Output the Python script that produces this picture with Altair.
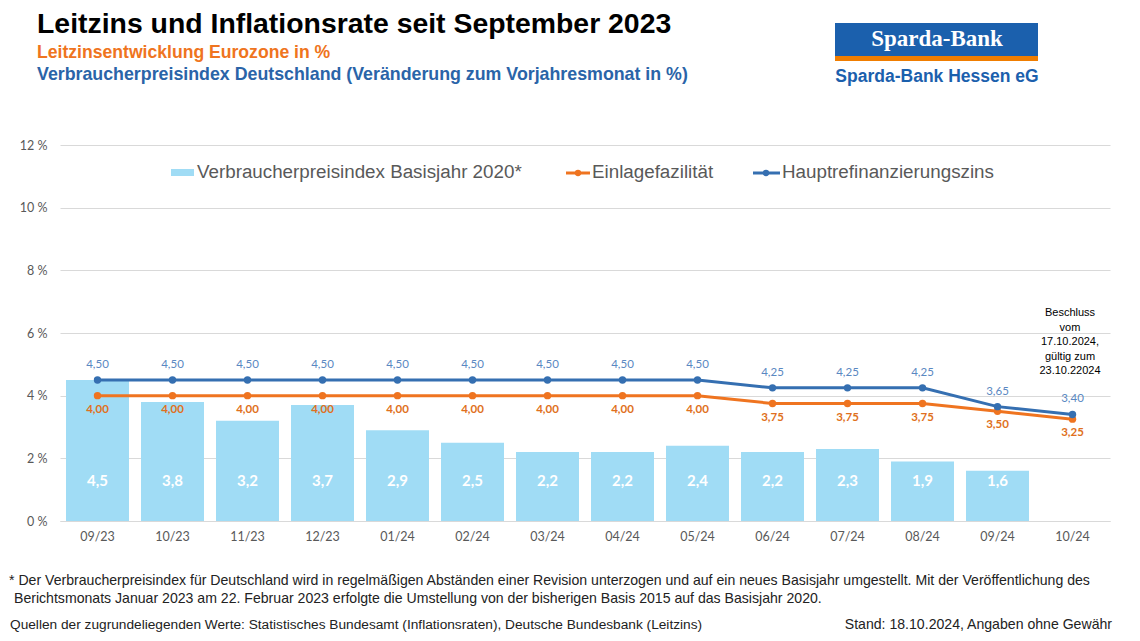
import altair as alt
import pandas as pd

months = ["09/23", "10/23", "11/23", "12/23", "01/24", "02/24", "03/24",
          "04/24", "05/24", "06/24", "07/24", "08/24", "09/24", "10/24"]
cpi = [4.5, 3.8, 3.2, 3.7, 2.9, 2.5, 2.2, 2.2, 2.4, 2.2, 2.3, 1.9, 1.6]
deposit = [4.00, 4.00, 4.00, 4.00, 4.00, 4.00, 4.00, 4.00, 4.00,
           3.75, 3.75, 3.75, 3.50, 3.25]
mro = [4.50, 4.50, 4.50, 4.50, 4.50, 4.50, 4.50, 4.50, 4.50,
       4.25, 4.25, 4.25, 3.65, 3.40]
y_ticks = [0, 2, 4, 6, 8, 10, 12]


def de(v, d):
    return f"{v:.{d}f}".replace(".", ",")


bars_df = pd.DataFrame({"month": months[:len(cpi)], "cpi": cpi,
                        "label": [de(v, 1) for v in cpi]})
lines_df = pd.DataFrame({"month": months, "deposit": deposit, "mro": mro,
                         "dlabel": [de(v, 2) for v in deposit],
                         "mlabel": [de(v, 2) for v in mro]})
one = pd.DataFrame({"k": [0]})

W, H = 1050, 376
BAR = "#a0dcf5"
ORANGE = "#ef7420"
BLUE = "#356fb1"
GRAY = "#595959"
GRID = "#d9d9d9"
AX_FONT = "Lato"
TXT_FONT = "Liberation Sans"

xscale = alt.Scale(domain=months, paddingInner=0.16, paddingOuter=0.08)
yscale = alt.Scale(domain=[0, 12], nice=False, zero=True)


def X():
    return alt.X("month:N", sort=months, scale=xscale, title=None)


def Y(field):
    return alt.Y(field, type="quantitative", scale=yscale, title=None)


bars = alt.Chart(bars_df).mark_bar(color=BAR).encode(
    x=alt.X("month:N", sort=months, scale=xscale, title=None,
            axis=alt.Axis(labelAngle=0, ticks=False, domainColor=GRID,
                          labelColor=GRAY, labelFont=AX_FONT,
                          labelFontSize=12.5, labelPadding=9, grid=False)),
    y=alt.Y("cpi:Q", scale=yscale, title=None,
            axis=alt.Axis(values=y_ticks, labelExpr="datum.value + ' %'",
                          domain=False, ticks=False, grid=True,
                          gridColor=GRID, labelColor=GRAY, labelFont=AX_FONT,
                          labelFontSize=12.5, labelPadding=13)),
)

bar_labels = alt.Chart(bars_df).mark_text(
    color="white", font=AX_FONT, fontWeight="bold", fontSize=15,
    baseline="middle").encode(
    x=X(), y=alt.value(336), text="label:N")

dep_line = alt.Chart(lines_df).mark_line(
    color=ORANGE, strokeWidth=3,
    point=alt.OverlayMarkDef(filled=True, size=55, color=ORANGE)).encode(
    x=X(), y=Y("deposit"))
mro_line = alt.Chart(lines_df).mark_line(
    color=BLUE, strokeWidth=3,
    point=alt.OverlayMarkDef(filled=True, size=55, color=BLUE)).encode(
    x=X(), y=Y("mro"))

dep_labels = alt.Chart(lines_df).mark_text(
    color="#e07020", font=AX_FONT, fontWeight="bold", fontSize=11.5,
    baseline="middle", dy=14).encode(
    x=X(), y=Y("deposit"), text="dlabel:N")
mro_labels = alt.Chart(lines_df).mark_text(
    color="#5a88c2", font=AX_FONT, fontSize=11.5,
    baseline="middle", dy=-15).encode(
    x=X(), y=Y("mro"), text="mlabel:N")


def txt(s, x, y, size, color="black", weight="normal", align="left",
        font=TXT_FONT, **kw):
    return alt.Chart(one).mark_text(
        text=s, fontSize=size, color=color, fontWeight=weight, align=align,
        baseline="middle", font=font, **kw).encode(
        x=alt.value(x), y=alt.value(y))


def box(x1, x2, y1, y2, color):
    return alt.Chart(one).mark_rect(color=color).encode(
        x=alt.value(x1), x2=alt.value(x2), y=alt.value(y1), y2=alt.value(y2))


def rule(x1, x2, y, color):
    return alt.Chart(one).mark_rule(color=color, strokeWidth=3).encode(
        x=alt.value(x1), x2=alt.value(x2), y=alt.value(y))


def dot(x, y, color):
    return alt.Chart(one).mark_point(filled=True, size=40, color=color,
                                     opacity=1).encode(
        x=alt.value(x), y=alt.value(y))


titles = [
    txt("Leitzins und Inflationsrate seit September 2023", -23, -121, 28.4,
        weight="bold"),
    txt("Leitzinsentwicklung  Eurozone in %", -23, -92, 17.6, color=ORANGE,
        weight="bold"),
    txt("Verbraucherpreisindex Deutschland (Veränderung zum Vorjahresmonat in %)",
        -23, -70, 17.8, color="#2a64a8", weight="bold"),
]

logo = [
    box(775, 978, -122, -89, "#1b60ad"),
    box(775, 978, -89, -84, "#f07d00"),
    txt("Sparda-Bank", 877, -106, 23, color="white", weight="bold",
        align="center", font="Liberation Serif"),
    txt("Sparda-Bank Hessen eG", 877, -68, 17.5, color="#1b60ad",
        weight="bold", align="center"),
]

legend = [
    box(111, 134, 24, 31, BAR),
    txt("Verbraucherpreisindex Basisjahr 2020*", 137, 27, 18.8, color=GRAY),
    rule(506, 530, 28, ORANGE),
    dot(518, 28, ORANGE),
    txt("Einlagefazilität", 532, 27, 18.8, color=GRAY),
    rule(693, 720, 28, BLUE),
    dot(706, 28, BLUE),
    txt("Hauptrefinanzierungszins", 722, 27, 18.8, color=GRAY),
]

note = alt.Chart(one).mark_text(
    text="Beschluss\nvom\n17.10.2024,\ngültig zum\n23.10.22024",
    lineBreak="\n", lineHeight=14.5, fontSize=11, font=TXT_FONT,
    color="black", align="center", baseline="top").encode(
    x=alt.value(1010), y=alt.value(162))

footer = [
    txt("* Der Verbraucherpreisindex für Deutschland wird in regelmäßigen Abständen einer Revision unterzogen und auf ein neues Basisjahr umgestellt. Mit der Veröffentlichung des",
        -51, 436, 14.1, color="#222222"),
    txt("Berichtsmonats Januar 2023 am 22. Februar 2023 erfolgte die Umstellung von der bisherigen Basis 2015 auf das Basisjahr 2020.",
        -46, 454, 14.1, color="#222222"),
    txt("Quellen der zugrundeliegenden Werte: Statistisches Bundesamt (Inflationsraten),  Deutsche Bundesbank (Leitzins)",
        -50, 480, 13.7, color="#222222"),
    txt("Stand: 18.10.2024, Angaben ohne Gewähr", 1052, 480, 14.1,
        color="#222222", align="right"),
]

chart = alt.layer(
    bars, bar_labels, dep_line, mro_line, dep_labels, mro_labels,
    *titles, *logo, *legend, note, *footer
).properties(
    width=W, height=H,
    autosize=alt.AutoSizeParams(type="none"),
    padding={"left": 52, "top": 137, "right": 22, "bottom": 112},
    background="white",
).configure_view(stroke=None)

chart.save("out.html", embed_options={"renderer": "svg", "actions": False})
